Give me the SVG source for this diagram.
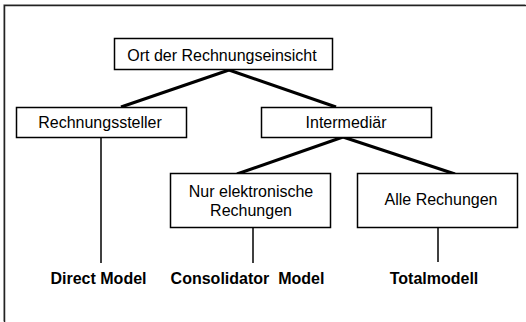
<svg xmlns="http://www.w3.org/2000/svg" width="526" height="322" viewBox="0 0 526 322">
<style>
.box{fill:#fff;stroke:#000;stroke-width:1.5}
.t{font-family:"Liberation Sans",Arial,sans-serif;font-size:16px;fill:#000;text-anchor:middle}
.b{font-family:"Liberation Sans",Arial,sans-serif;font-size:16px;font-weight:bold;fill:#000;text-anchor:middle}
.thick{stroke:#000;stroke-width:3;fill:none}
.thin{stroke:#000;stroke-width:1.5;fill:none}
</style>
<rect width="526" height="322" fill="#fff"/>
<path d="M4.5 322 V5.5 H526" fill="none" stroke="#bbb" stroke-width="1" transform="translate(-1,-1)"/>
<path d="M4.5 322 V5.5 H526" fill="none" stroke="#222" stroke-width="1.5"/>
<g id="connectors">
<line class="thick" x1="229" y1="70" x2="121" y2="107"/>
<line class="thick" x1="229" y1="70" x2="336" y2="107"/>
<line class="thick" x1="343" y1="137" x2="237" y2="174"/>
<line class="thick" x1="343" y1="137" x2="455" y2="174"/>
<line class="thin" x1="101" y1="137" x2="101" y2="263"/>
<line class="thin" x1="253" y1="228" x2="253" y2="263"/>
<line class="thin" x1="438" y1="228" x2="438" y2="262"/>
</g>
<g id="root">
<rect class="box" x="114.5" y="38.5" width="218" height="31"/>
<text class="t" x="222" y="61">Ort der Rechnungseinsicht</text>
</g>
<g id="rechnungssteller">
<rect class="box" x="16.5" y="107.5" width="170" height="30"/>
<text class="t" x="100" y="128">Rechnungssteller</text>
</g>
<g id="intermediaer">
<rect class="box" x="261.5" y="107.5" width="170" height="30"/>
<text class="t" x="346" y="128">Intermediär</text>
</g>
<g id="nur">
<rect class="box" x="170.5" y="173.5" width="160" height="54"/>
<text class="t" x="251" y="197">Nur elektronische</text>
<text class="t" x="251" y="216">Rechungen</text>
</g>
<g id="alle">
<rect class="box" x="357.5" y="173.5" width="160" height="54"/>
<text class="t" x="441" y="205">Alle Rechungen</text>
</g>
<g id="direct">
<text class="b" x="98.5" y="284">Direct Model</text>
</g>
<g id="consolidator">
<text class="b" x="247.5" y="284" xml:space="preserve">Consolidator  Model</text>
</g>
<g id="total">
<text class="b" x="434" y="284">Totalmodell</text>
</g>
</svg>
